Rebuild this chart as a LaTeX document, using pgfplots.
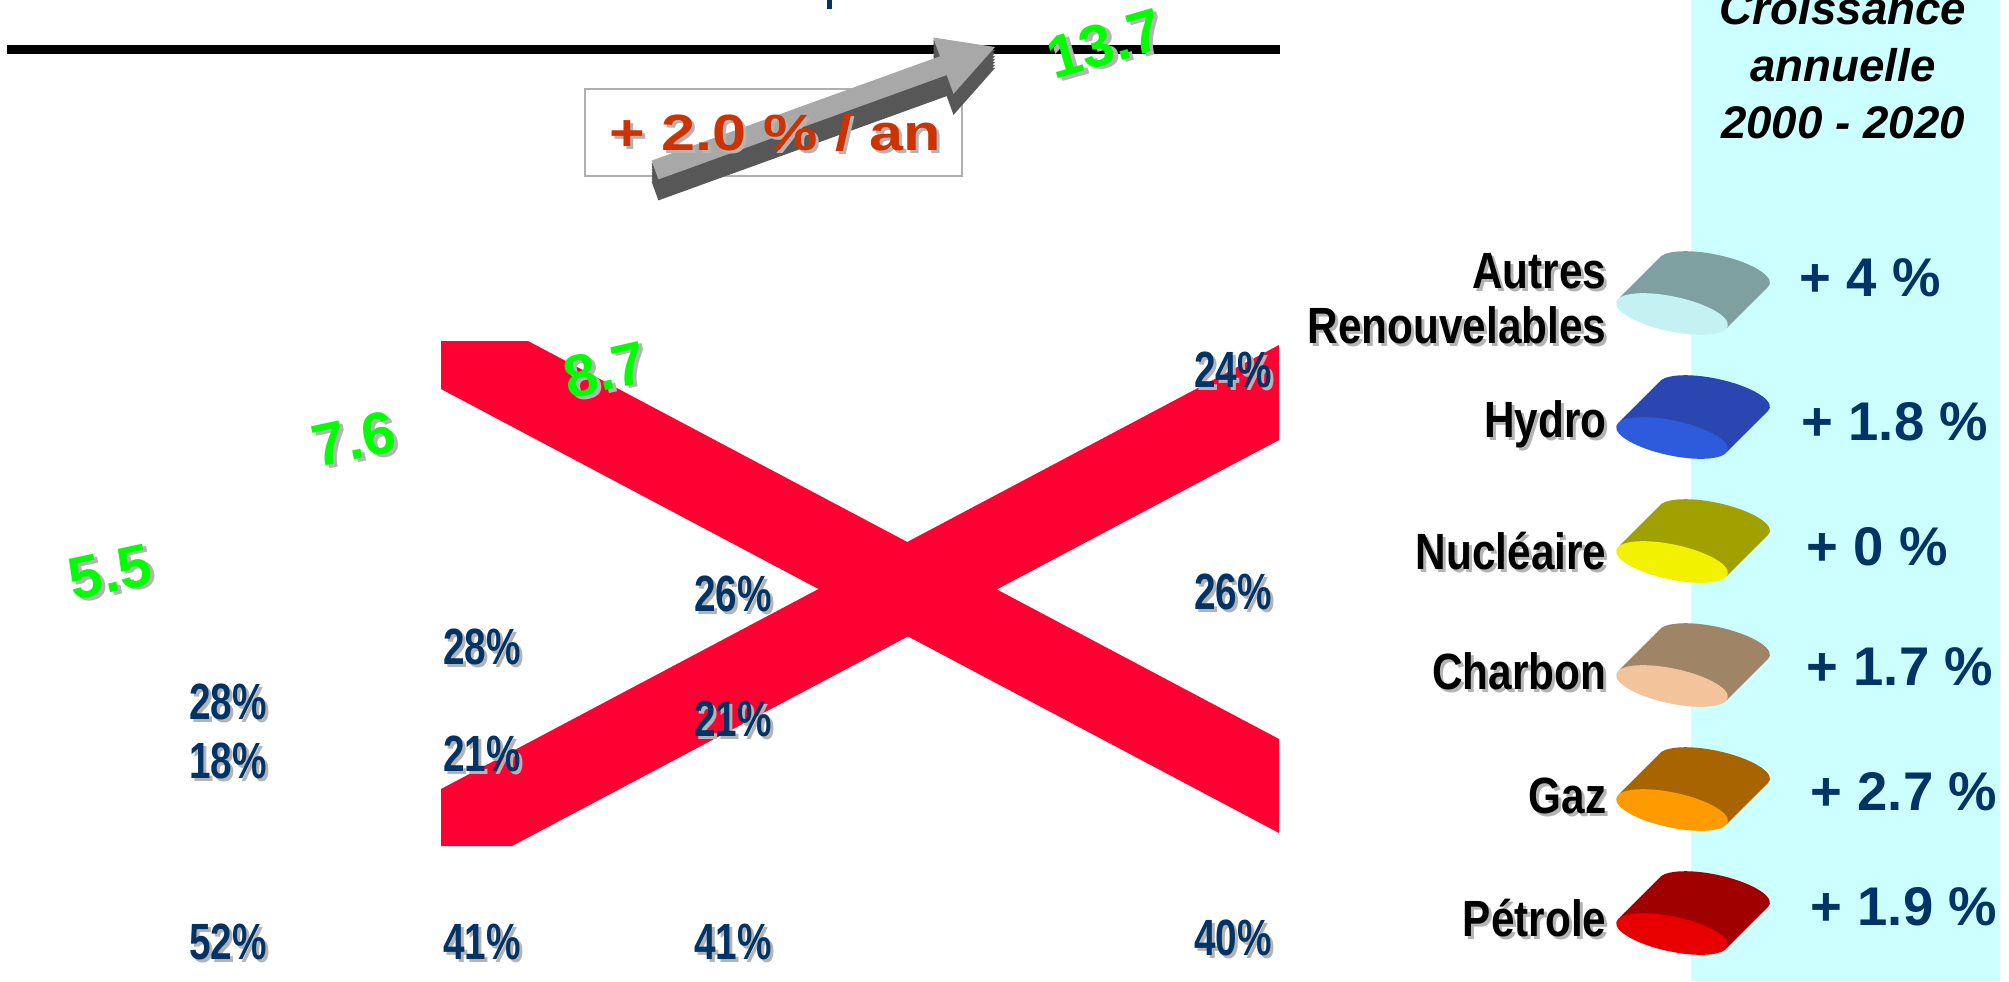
\documentclass[border=0pt]{standalone}
\usepackage{fontspec}
\setmainfont{Liberation Sans}
\newfontfamily\narrowP[FakeStretch=0.76]{Liberation Sans}
\newfontfamily\narrowL[FakeStretch=0.83]{Liberation Sans}
\newfontfamily\wideR[FakeStretch=1.2]{Liberation Sans}
\usepackage{pgfplots}
\pgfplotsset{compat=1.18}
\usepackage{pgfplotstable}

\definecolor{navy}{HTML}{003366}
\definecolor{xred}{HTML}{FF0033}
\definecolor{vgreen}{HTML}{00FF00}
\definecolor{shadowgray}{HTML}{B4B4B4}
\definecolor{bandcyan}{HTML}{CCFFFF}
\definecolor{arrowlight}{HTML}{A8A8A8}
\definecolor{arrowdark}{HTML}{575757}
\definecolor{rateorange}{HTML}{CC3300}
\definecolor{boxgray}{HTML}{B0B0B0}
% legend icon colours
\definecolor{autB}{HTML}{7FA0A0}\definecolor{autF}{HTML}{C4F2F2}
\definecolor{hydB}{HTML}{2A46B0}\definecolor{hydF}{HTML}{2D5BDC}
\definecolor{nucB}{HTML}{A0A000}\definecolor{nucF}{HTML}{F2F200}
\definecolor{chaB}{HTML}{A08466}\definecolor{chaF}{HTML}{F3C49C}
\definecolor{gazB}{HTML}{A86400}\definecolor{gazF}{HTML}{FF9A00}
\definecolor{petB}{HTML}{A00000}\definecolor{petF}{HTML}{E80000}

% shares (%) : x = column position, y = vertical position (px from top)
\pgfplotstableread{
x    y    p
228  702  28
228  761  18
228  942  52
482  647  28
482  754  21
482  942  41
733  594  26
733  719  21
733  942  41
1233 370  24
1233 592  26
1233 938  40
}\pcttable

% totals
\pgfplotstableread{
x    y    v    r
110  572  5.5  12
354  439  7.6  12
605  370  8.7  13
1105 44   13.7 16
}\tottable

\newcommand{\pctfont}{\narrowP\bfseries\fontsize{14.5}{17}\selectfont}
\newcommand{\legfont}{\narrowL\bfseries\fontsize{14.5}{17}\selectfont}
\newcommand{\grofont}{\bfseries\fontsize{15.5}{18}\selectfont}
\newcommand{\totfont}{\bfseries\fontsize{17}{20}\selectfont}
\newcommand{\titfont}{\bfseries\itshape\fontsize{13}{16.2}\selectfont}

\newcommand{\cyl}[4]{%
  \begin{scope}[shift={(axis cs:#1,#2)}, rotate=-12]
    \pgfplotsinvokeforeach{20,19,...,1}{\fill[#3] (##1*0.162mm, ##1*0.249mm) ellipse (5.7mm and 1.75mm);}
    \fill[#4] (0,0) ellipse (5.7mm and 1.75mm);
  \end{scope}}

\newcommand{\legtext}[3]{%
  \node[anchor=east, align=right, inner sep=0pt, text=shadowgray, font=\legfont] at ([xshift=0.3mm,yshift=-0.3mm]axis cs:#1,#2) {#3};
  \node[anchor=east, align=right, inner sep=0pt, text=black, font=\legfont] at (axis cs:#1,#2) {#3};}

\newcommand{\grotext}[3]{%
  \node[anchor=west, inner sep=0pt, text=navy, font=\grofont] at (axis cs:#1,#2) {#3};}

\begin{document}
\begin{tikzpicture}
\begin{axis}[
  scale only axis, width=200.9mm, height=98.1mm,
  xmin=0, xmax=2009, ymin=0, ymax=981, y dir=reverse,
  hide axis, clip=false,
]
% cyan column
\fill[bandcyan] (axis cs:1691,0) rectangle (axis cs:2000,981);

% black rule and small title remnant
\fill[black] (axis cs:7,45) rectangle (axis cs:1280,54);
\fill[navy] (axis cs:827,0) rectangle (axis cs:832,9);

% growth box
\draw[boxgray, line width=0.25mm] (axis cs:585,89) rectangle (axis cs:962,176);

% 3D arrow
\pgfplotsinvokeforeach{1,...,7}{
\fill[arrowdark, yshift=-#1*0.3mm] (axis cs:651.6,160.6) -- (axis cs:939.9,56.3) -- (axis cs:933.1,37.5) -- (axis cs:995,47) -- (axis cs:953.5,93.9) -- (axis cs:946.7,75.1) -- (axis cs:658.4,179.4) -- cycle;
}
\fill[arrowlight] (axis cs:651.6,160.6) -- (axis cs:939.9,56.3) -- (axis cs:933.1,37.5) -- (axis cs:995,47) -- (axis cs:953.5,93.9) -- (axis cs:946.7,75.1) -- (axis cs:658.4,179.4) -- cycle;

\node[text=shadowgray, inner sep=0pt, font=\wideR\bfseries\fontsize{14.5}{17}\selectfont] at ([xshift=0.3mm,yshift=-0.3mm]axis cs:775,133) {+ 2.0 \% / an};
\node[text=rateorange, inner sep=0pt, font=\wideR\bfseries\fontsize{14.5}{17}\selectfont] at (axis cs:775,133) {+ 2.0 \% / an};

% red cross
\fill[xred] (axis cs:441,341) -- (axis cs:528,341) -- (axis cs:1279,739) -- (axis cs:1279,833) -- (axis cs:441,389) -- cycle;
\fill[xred] (axis cs:441,789) -- (axis cs:441,846) -- (axis cs:512,846) -- (axis cs:1279,440) -- (axis cs:1279,345) -- cycle;

% share labels (shadow, then text)
\addplot[draw=none, mark=none, point meta=explicit symbolic,
  nodes near coords={\pgfplotspointmeta\%},
  every node near coord/.append style={anchor=center, inner sep=0pt, xshift=0.3mm, yshift=-0.3mm, font=\pctfont, text=shadowgray}]
  table[x=x, y=y, meta=p] {\pcttable};
\addplot[draw=none, mark=none, point meta=explicit symbolic,
  nodes near coords={\pgfplotspointmeta\%},
  every node near coord/.append style={anchor=center, inner sep=0pt, font=\pctfont, text=navy}]
  table[x=x, y=y, meta=p] {\pcttable};

% totals
\addplot[draw=none, mark=none, point meta=explicit symbolic,
  visualization depends on={\thisrow{r}\as\rot},
  nodes near coords={\pgfplotspointmeta},
  every node near coord/.append style={anchor=center, inner sep=0pt, rotate=\rot, xshift=0.35mm, yshift=-0.35mm, font=\totfont, text=shadowgray}]
  table[x=x, y=y, meta=v] {\tottable};
\addplot[draw=none, mark=none, point meta=explicit symbolic,
  visualization depends on={\thisrow{r}\as\rot},
  nodes near coords={\pgfplotspointmeta},
  every node near coord/.append style={anchor=center, inner sep=0pt, rotate=\rot, font=\totfont, text=vgreen}]
  table[x=x, y=y, meta=v] {\tottable};

% legend title
\node[align=center, inner sep=0pt, font=\titfont] at (axis cs:1843,65) {Croissance\\annuelle\\2000 - 2020};

% legend icons
\cyl{1672}{314}{autB}{autF}
\cyl{1672}{438}{hydB}{hydF}
\cyl{1672}{562}{nucB}{nucF}
\cyl{1672}{686}{chaB}{chaF}
\cyl{1672}{810}{gazB}{gazF}
\cyl{1672}{934}{petB}{petF}

% legend labels
\legtext{1607}{299}{Autres\\[-0.5mm]Renouvelables}
\legtext{1607}{424}{Hydro}
\legtext{1607}{551}{Nucléaire}
\legtext{1607}{671}{Charbon}
\legtext{1607}{796}{Gaz}
\legtext{1607}{918}{Pétrole}

% growth rates
\grotext{1799}{278}{+ 4 \%}
\grotext{1801}{422}{+ 1.8 \%}
\grotext{1806}{547}{+ 0 \%}
\grotext{1806}{667}{+ 1.7 \%}
\grotext{1810}{792}{+ 2.7 \%}
\grotext{1810}{907}{+ 1.9 \%}
\end{axis}
\pgfresetboundingbox
\useasboundingbox (current axis.south west) rectangle (current axis.north east);
\end{tikzpicture}
\end{document}
